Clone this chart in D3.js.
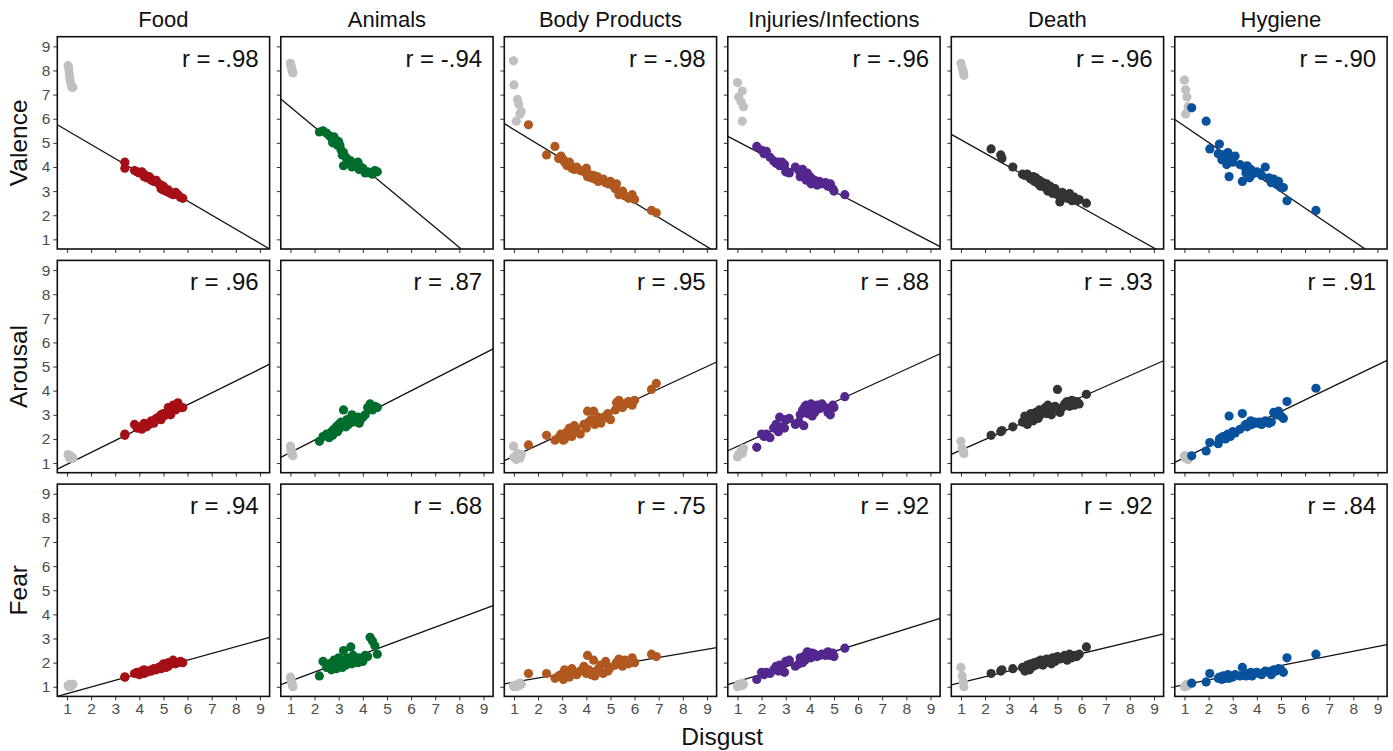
<!DOCTYPE html>
<html>
<head>
<meta charset="utf-8">
<script src="https://cdn.jsdelivr.net/npm/d3@7"></script>
<style>
  body { margin: 0; background: #fff; }
  svg { font-family: "Liberation Sans", Arial, sans-serif; }
</style>
</head>
<body>
<div class="container"></div>
<script>
// Facets
const categories = ["Food", "Animals", "Body Products", "Injuries/Infections", "Death", "Hygiene"];
const measures = ["Valence", "Arousal", "Fear"];
const categoryColors = ["#a50f15", "#006d2c", "#b0581f", "#54278f", "#333333", "#08519c"];
const neutralColor = "#c0c0c0";

// Correlation labels per row
const valenceR = ["-.98", "-.94", "-.98", "-.96", "-.96", "-.90"];
const arousalR = [".96", ".87", ".95", ".88", ".93", ".91"];
const fearR = [".94", ".68", ".75", ".92", ".92", ".84"];

// Fit lines [intercept, slope]
const valenceFit = [[6.10, -0.585], [7.32, -0.832], [6.16, -0.607], [5.58, -0.519], [5.69, -0.561], [6.38, -0.681]];
const arousalFit = [[0.454, 0.494], [0.929, 0.511], [0.818, 0.465], [1.235, 0.457], [1.095, 0.441], [0.741, 0.48]];
const fearFit = [[0.433, 0.278], [0.868, 0.372], [1.02, 0.17], [0.899, 0.312], [0.936, 0.24], [0.889, 0.198]];

// Food
const foodDisgust = [3.4, 3.4, 3.8, 3.9, 4.0, 4.1, 4.2, 4.2, 4.3, 4.4, 4.5, 4.5, 4.6, 4.7, 4.8, 4.9, 4.9, 5.0, 5.0, 5.1, 5.2, 5.2, 5.3, 5.4, 5.5, 5.6, 5.7, 5.8];
const foodValence = [4.2, 3.95, 3.85, 3.8, 3.75, 3.8, 3.6, 3.7, 3.55, 3.6, 3.5, 3.45, 3.4, 3.45, 3.3, 3.25, 3.1, 3.2, 3.05, 3.0, 3.05, 2.95, 2.9, 2.85, 2.95, 2.85, 2.75, 2.7];
const foodArousal = [2.2, 2.15, 2.6, 2.45, 2.5, 2.4, 2.55, 2.65, 2.5, 2.6, 2.7, 2.75, 2.65, 2.85, 2.9, 3.0, 2.8, 3.05, 2.95, 3.0, 3.1, 3.3, 3.0, 3.4, 3.2, 3.5, 3.3, 3.3];
const foodFear = [1.4, 1.4, 1.55, 1.6, 1.5, 1.65, 1.55, 1.7, 1.6, 1.65, 1.7, 1.65, 1.75, 1.7, 1.8, 1.85, 1.75, 1.9, 1.95, 1.8, 2.0, 1.85, 1.95, 2.1, 1.95, 2.0, 2.05, 2.0];
const foodNeutralDisgust = [1.05, 1.08, 1.1, 1.12, 1.15, 1.2, 1.25];
const foodNeutralValence = [8.2, 8.05, 7.85, 7.65, 7.5, 7.3, 7.3];
const foodNeutralArousal = [1.35, 1.3, 1.25, 1.2, 1.3, 1.25, 1.2];
const foodNeutralFear = [1.05, 1.0, 1.05, 1.1, 1.0, 1.05, 1.1];

// Animals
const animalsDisgust = [2.2, 2.35, 2.5, 2.6, 2.7, 2.75, 2.8, 2.9, 2.95, 3.0, 3.05, 3.1, 3.15, 3.2, 3.2, 3.3, 3.35, 3.4, 3.5, 3.55, 3.6, 3.7, 3.8, 3.85, 3.9, 4.0, 4.1, 4.2, 4.3, 4.4, 4.5, 4.6];
const animalsValence = [5.45, 5.5, 5.4, 5.3, 5.2, 5.0, 5.25, 5.1, 4.9, 5.05, 4.9, 4.7, 4.5, 4.05, 4.6, 4.4, 4.3, 4.2, 4.25, 4.0, 4.15, 4.05, 4.2, 3.9, 4.0, 3.95, 3.75, 3.8, 3.75, 3.7, 3.85, 3.8];
const animalsArousal = [1.9, 2.1, 2.2, 2.05, 2.3, 2.15, 2.4, 2.5, 2.3, 2.6, 2.45, 2.7, 2.55, 3.2, 2.65, 2.5, 2.8, 2.6, 2.75, 3.0, 2.7, 2.85, 2.9, 2.65, 2.8, 2.9, 3.0, 3.3, 3.45, 3.2, 3.35, 3.3];
const animalsFear = [1.45, 2.05, 1.8, 1.95, 1.7, 2.0, 2.1, 1.75, 1.9, 2.2, 1.85, 2.0, 1.8, 2.5, 2.1, 1.9, 2.2, 2.0, 2.65, 1.95, 2.3, 2.1, 2.0, 2.2, 2.15, 2.05, 2.3, 2.25, 3.05, 2.9, 2.7, 2.35];
const animalsNeutralDisgust = [1.0, 1.02, 1.05, 1.07, 1.1];
const animalsNeutralValence = [8.3, 8.2, 8.1, 8.0, 7.9];
const animalsNeutralArousal = [1.7, 1.55, 1.45, 1.35, 1.3];
const animalsNeutralFear = [1.4, 1.3, 1.2, 1.1, 1.0];

// Body Products
const bodyDisgust = [1.6, 2.35, 2.7, 2.85, 2.95, 3.05, 3.1, 3.2, 3.3, 3.4, 3.5, 3.6, 3.75, 3.9, 4.0, 4.05, 4.1, 4.2, 4.3, 4.35, 4.45, 4.5, 4.6, 4.7, 4.8, 4.9, 5.0, 5.2, 5.25, 5.35, 5.5, 5.6, 5.75, 5.9, 6.0, 6.7, 6.9];
const bodyValence = [5.75, 4.5, 4.85, 4.35, 4.45, 4.3, 4.2, 4.05, 4.2, 3.95, 3.9, 4.0, 3.85, 3.8, 3.95, 3.6, 3.7, 3.55, 3.65, 3.5, 3.6, 3.4, 3.45, 3.5, 3.35, 3.3, 3.4, 3.1, 3.3, 2.85, 3.0, 2.8, 2.7, 2.85, 2.65, 2.2, 2.1];
const bodyArousal = [1.75, 2.15, 1.95, 2.05, 2.2, 1.95, 2.0, 2.3, 2.45, 2.1, 2.55, 2.35, 2.2, 2.6, 2.45, 3.15, 2.7, 2.8, 3.15, 2.6, 2.75, 2.9, 2.65, 2.85, 2.95, 3.05, 2.8, 3.2, 3.5, 3.6, 3.3, 3.45, 3.55, 3.4, 3.6, 4.05, 4.3];
const bodyFear = [1.55, 1.55, 1.35, 1.45, 1.5, 1.3, 1.7, 1.55, 1.4, 1.75, 1.6, 1.5, 1.65, 1.85, 1.55, 2.3, 1.7, 1.5, 2.1, 1.45, 1.6, 1.75, 1.9, 1.55, 2.05, 1.65, 1.8, 1.9, 2.0, 2.15, 1.85, 2.1, 1.95, 2.2, 2.0, 2.35, 2.25];
const bodyNeutralDisgust = [0.98, 1.0, 1.15, 1.2, 1.25, 1.1, 1.3];
const bodyNeutralValence = [8.4, 7.4, 6.8, 6.6, 6.2, 5.9, 6.3];
const bodyNeutralArousal = [1.7, 1.25, 1.4, 1.3, 1.2, 1.15, 1.35];
const bodyNeutralFear = [1.05, 1.0, 1.1, 1.05, 1.15, 1.0, 1.1];

// Injuries/Infections
const injuriesDisgust = [1.8, 2.0, 2.1, 2.2, 2.35, 2.5, 2.6, 2.7, 2.75, 2.85, 2.95, 3.0, 3.15, 3.4, 3.55, 3.6, 3.7, 3.75, 3.8, 3.85, 3.9, 4.0, 4.05, 4.1, 4.2, 4.3, 4.4, 4.5, 4.65, 4.75, 4.85, 4.95, 5.0, 5.45];
const injuriesValence = [4.85, 4.7, 4.55, 4.65, 4.4, 4.25, 4.15, 4.2, 4.05, 4.2, 4.1, 3.8, 3.75, 4.0, 3.85, 3.6, 3.9, 3.7, 3.55, 3.45, 3.75, 3.6, 3.3, 3.5, 3.45, 3.25, 3.4, 3.3, 3.35, 3.2, 3.3, 3.1, 3.0, 2.85];
const injuriesArousal = [1.65, 2.2, 2.1, 2.2, 2.05, 2.45, 2.6, 2.3, 2.9, 2.5, 2.45, 2.8, 2.85, 2.6, 2.7, 3.0, 3.2, 2.55, 3.35, 3.4, 3.05, 3.3, 3.45, 2.95, 3.1, 3.4, 3.25, 3.45, 3.3, 3.1, 3.0, 3.4, 3.3, 3.75];
const injuriesFear = [1.3, 1.6, 1.5, 1.6, 1.55, 1.7, 1.85, 1.65, 1.9, 1.75, 1.6, 2.05, 2.1, 1.85, 1.95, 2.2, 2.0, 2.25, 2.1, 2.35, 2.45, 2.3, 2.2, 2.4, 2.35, 2.25, 2.3, 2.35, 2.3, 2.45, 2.3, 2.4, 2.25, 2.6];
const injuriesNeutralDisgust = [1.0, 1.2, 1.05, 1.15, 1.25, 1.2];
const injuriesNeutralValence = [7.5, 7.15, 6.9, 6.7, 6.5, 5.9];
const injuriesNeutralArousal = [1.25, 1.4, 1.35, 1.5, 1.6, 1.5];
const injuriesNeutralFear = [1.0, 1.05, 1.1, 1.05, 1.1, 1.15];

// Death
const deathDisgust = [2.25, 2.65, 2.7, 3.15, 3.55, 3.65, 3.75, 3.85, 3.9, 4.0, 4.05, 4.1, 4.2, 4.25, 4.3, 4.4, 4.5, 4.55, 4.6, 4.7, 4.75, 4.8, 4.9, 5.0, 5.1, 5.2, 5.3, 5.4, 5.5, 5.6, 5.7, 5.8, 5.9, 6.2];
const deathValence = [4.75, 4.5, 4.35, 4.0, 3.7, 3.65, 3.7, 3.55, 3.5, 3.6, 3.4, 3.55, 3.3, 3.45, 3.2, 3.35, 3.15, 3.3, 3.0, 3.2, 3.05, 2.9, 3.1, 2.85, 2.55, 2.95, 2.8, 2.7, 2.9, 2.6, 2.75, 2.6, 2.65, 2.5];
const deathArousal = [2.15, 2.3, 2.35, 2.5, 2.7, 2.95, 2.6, 2.8, 3.05, 2.75, 2.9, 3.1, 2.85, 3.2, 3.0, 3.15, 3.3, 3.05, 3.4, 3.2, 3.0, 3.25, 3.35, 4.05, 3.1, 3.3, 3.45, 3.55, 3.35, 3.6, 3.4, 3.55, 3.45, 3.85];
const deathFear = [1.55, 1.65, 1.7, 1.75, 1.8, 1.65, 1.9, 1.7, 1.95, 1.85, 2.0, 1.9, 2.05, 1.95, 2.1, 1.9, 2.0, 2.15, 2.05, 2.1, 1.95, 2.2, 2.05, 2.25, 2.15, 2.2, 2.3, 2.1, 2.35, 2.2, 2.3, 2.25, 2.35, 2.65];
const deathNeutralDisgust = [1.0, 1.05, 1.1, 1.12];
const deathNeutralValence = [8.3, 8.1, 7.95, 7.8];
const deathNeutralArousal = [1.9, 1.6, 1.5, 1.4];
const deathNeutralFear = [1.8, 1.45, 1.2, 1.0];

// Hygiene
const hygieneDisgust = [1.3, 1.9, 2.05, 2.4, 2.45, 2.55, 2.6, 2.7, 2.75, 2.8, 2.85, 2.9, 3.0, 3.1, 3.3, 3.4, 3.5, 3.55, 3.6, 3.7, 3.75, 3.8, 3.9, 4.0, 4.1, 4.2, 4.35, 4.5, 4.6, 4.7, 4.8, 4.9, 5.0, 5.1, 5.25, 6.45];
const hygieneValence = [6.45, 5.9, 4.75, 4.55, 4.95, 4.3, 4.5, 4.35, 4.1, 4.6, 3.6, 4.4, 4.2, 4.45, 4.1, 3.4, 4.0, 3.75, 4.05, 3.55, 3.9, 3.7, 3.75, 3.8, 3.75, 3.65, 4.0, 3.55, 3.35, 3.5, 3.3, 3.4, 3.15, 3.15, 2.6, 2.2];
const hygieneArousal = [1.3, 1.5, 1.85, 1.8, 2.0, 2.05, 2.1, 2.0, 2.15, 2.2, 2.95, 2.1, 2.3, 2.25, 2.4, 3.05, 2.55, 2.6, 2.5, 2.65, 2.75, 2.6, 2.7, 2.65, 2.7, 2.6, 2.75, 2.65, 2.7, 3.1, 3.0, 3.15, 2.95, 2.85, 3.55, 4.1];
const hygieneFear = [1.15, 1.2, 1.55, 1.35, 1.4, 1.3, 1.45, 1.35, 1.4, 1.5, 1.35, 1.45, 1.4, 1.5, 1.45, 1.8, 1.5, 1.45, 1.55, 1.5, 1.6, 1.45, 1.55, 1.6, 1.55, 1.5, 1.65, 1.6, 1.5, 1.7, 1.65, 1.75, 1.7, 1.6, 2.2, 2.35];
const hygieneNeutralDisgust = [1.0, 1.05, 1.1, 1.15, 1.05];
const hygieneNeutralValence = [7.6, 7.2, 6.9, 6.5, 6.2];
const hygieneNeutralArousal = [1.3, 1.2, 1.25, 1.15, 1.3];
const hygieneNeutralFear = [1.0, 1.05, 1.1, 1.05, 1.0];

const tickValues = [1, 2, 3, 4, 5, 6, 7, 8, 9];

// group the arrays by facet
const disgustByCat = [foodDisgust, animalsDisgust, bodyDisgust, injuriesDisgust, deathDisgust, hygieneDisgust];
const neutralDisgustByCat = [foodNeutralDisgust, animalsNeutralDisgust, bodyNeutralDisgust, injuriesNeutralDisgust, deathNeutralDisgust, hygieneNeutralDisgust];
const yByMeasure = [
  [foodValence, animalsValence, bodyValence, injuriesValence, deathValence, hygieneValence],
  [foodArousal, animalsArousal, bodyArousal, injuriesArousal, deathArousal, hygieneArousal],
  [foodFear, animalsFear, bodyFear, injuriesFear, deathFear, hygieneFear]
];
const neutralYByMeasure = [
  [foodNeutralValence, animalsNeutralValence, bodyNeutralValence, injuriesNeutralValence, deathNeutralValence, hygieneNeutralValence],
  [foodNeutralArousal, animalsNeutralArousal, bodyNeutralArousal, injuriesNeutralArousal, deathNeutralArousal, hygieneNeutralArousal],
  [foodNeutralFear, animalsNeutralFear, bodyNeutralFear, injuriesNeutralFear, deathNeutralFear, hygieneNeutralFear]
];
const rByMeasure = [valenceR, arousalR, fearR];
const fitByMeasure = [valenceFit, arousalFit, fearFit];

// layout
const width = 1393, height = 751;
const left0 = 57.3, top0 = 36.7;
const colStep = 223.5, rowStep = 223.7;
const panelW = 212.3, panelH = 212.3;

const x = d3.scaleLinear().domain([0.6, 9.4]).range([0, panelW]);
const y = d3.scaleLinear().domain([0.6, 9.4]).range([panelH, 0]);

const svg = d3.select(".container").append("svg")
    .attr("width", width)
    .attr("height", height);

svg.append("defs").append("clipPath")
    .attr("id", "panel-clip")
  .append("rect")
    .attr("width", panelW)
    .attr("height", panelH);

measures.forEach(function(measure, r) {
  categories.forEach(function(cat, c) {
    const g = svg.append("g")
        .attr("transform", `translate(${left0 + c * colStep},${top0 + r * rowStep})`);

    // axes (ticks on every panel, labels only on outer ones)
    const yAxis = d3.axisLeft(y).tickValues(tickValues).tickSize(4).tickPadding(3)
        .tickFormat(c === 0 ? d3.format("d") : "");
    const xAxis = d3.axisBottom(x).tickValues(tickValues).tickSize(4).tickPadding(3)
        .tickFormat(r === 2 ? d3.format("d") : "");

    g.append("g").call(yAxis)
        .call(a => a.select(".domain").remove())
        .call(a => a.selectAll("line").attr("stroke", "#333"))
        .call(a => a.selectAll("text").attr("fill", "#4d4d4d").attr("font-size", 15.5));
    g.append("g").attr("transform", `translate(0,${panelH})`).call(xAxis)
        .call(a => a.select(".domain").remove())
        .call(a => a.selectAll("line").attr("stroke", "#333"))
        .call(a => a.selectAll("text").attr("fill", "#4d4d4d").attr("font-size", 15.5));

    const plot = g.append("g").attr("clip-path", "url(#panel-clip)");

    const neutral = neutralDisgustByCat[c].map((d, i) => [d, neutralYByMeasure[r][c][i]]);
    const items = disgustByCat[c].map((d, i) => [d, yByMeasure[r][c][i]]);

    const fit = fitByMeasure[r][c];
    plot.append("line")
        .attr("x1", x(x.domain()[0]))
        .attr("y1", y(fit[0] + fit[1] * x.domain()[0]))
        .attr("x2", x(x.domain()[1]))
        .attr("y2", y(fit[0] + fit[1] * x.domain()[1]))
        .attr("stroke", "#111")
        .attr("stroke-width", 1.3);

    plot.selectAll("circle.neutral")
      .data(neutral)
      .enter().append("circle")
        .attr("class", "neutral")
        .attr("cx", d => x(d[0]))
        .attr("cy", d => y(d[1]))
        .attr("r", 4.6)
        .attr("fill", neutralColor);

    plot.selectAll("circle.item")
      .data(items)
      .enter().append("circle")
        .attr("class", "item")
        .attr("cx", d => x(d[0]))
        .attr("cy", d => y(d[1]))
        .attr("r", 4.6)
        .attr("fill", categoryColors[c]);

    g.append("rect")
        .attr("width", panelW)
        .attr("height", panelH)
        .attr("fill", "none")
        .attr("stroke", "#111")
        .attr("stroke-width", 1.6);

    g.append("text")
        .attr("x", panelW - 11)
        .attr("y", 30)
        .attr("text-anchor", "end")
        .attr("font-size", 24)
        .attr("fill", "#111")
        .text("r = " + rByMeasure[r][c]);

    // strip titles
    if (r === 0) {
      g.append("text")
          .attr("x", panelW / 2)
          .attr("y", -9.5)
          .attr("text-anchor", "middle")
          .attr("font-size", 22)
          .attr("fill", "#111")
          .text(cat);
    }
    // row titles
    if (c === 0) {
      g.append("text")
          .attr("transform", `translate(-30,${panelH / 2}) rotate(-90)`)
          .attr("text-anchor", "middle")
          .attr("font-size", 24.5)
          .attr("fill", "#111")
          .text(measure);
    }
  });
});

svg.append("text")
    .attr("x", left0 + (5 * colStep + panelW) / 2)
    .attr("y", 745)
    .attr("text-anchor", "middle")
    .attr("font-size", 24.5)
    .attr("fill", "#111")
    .text("Disgust");
</script>
</body>
</html>
